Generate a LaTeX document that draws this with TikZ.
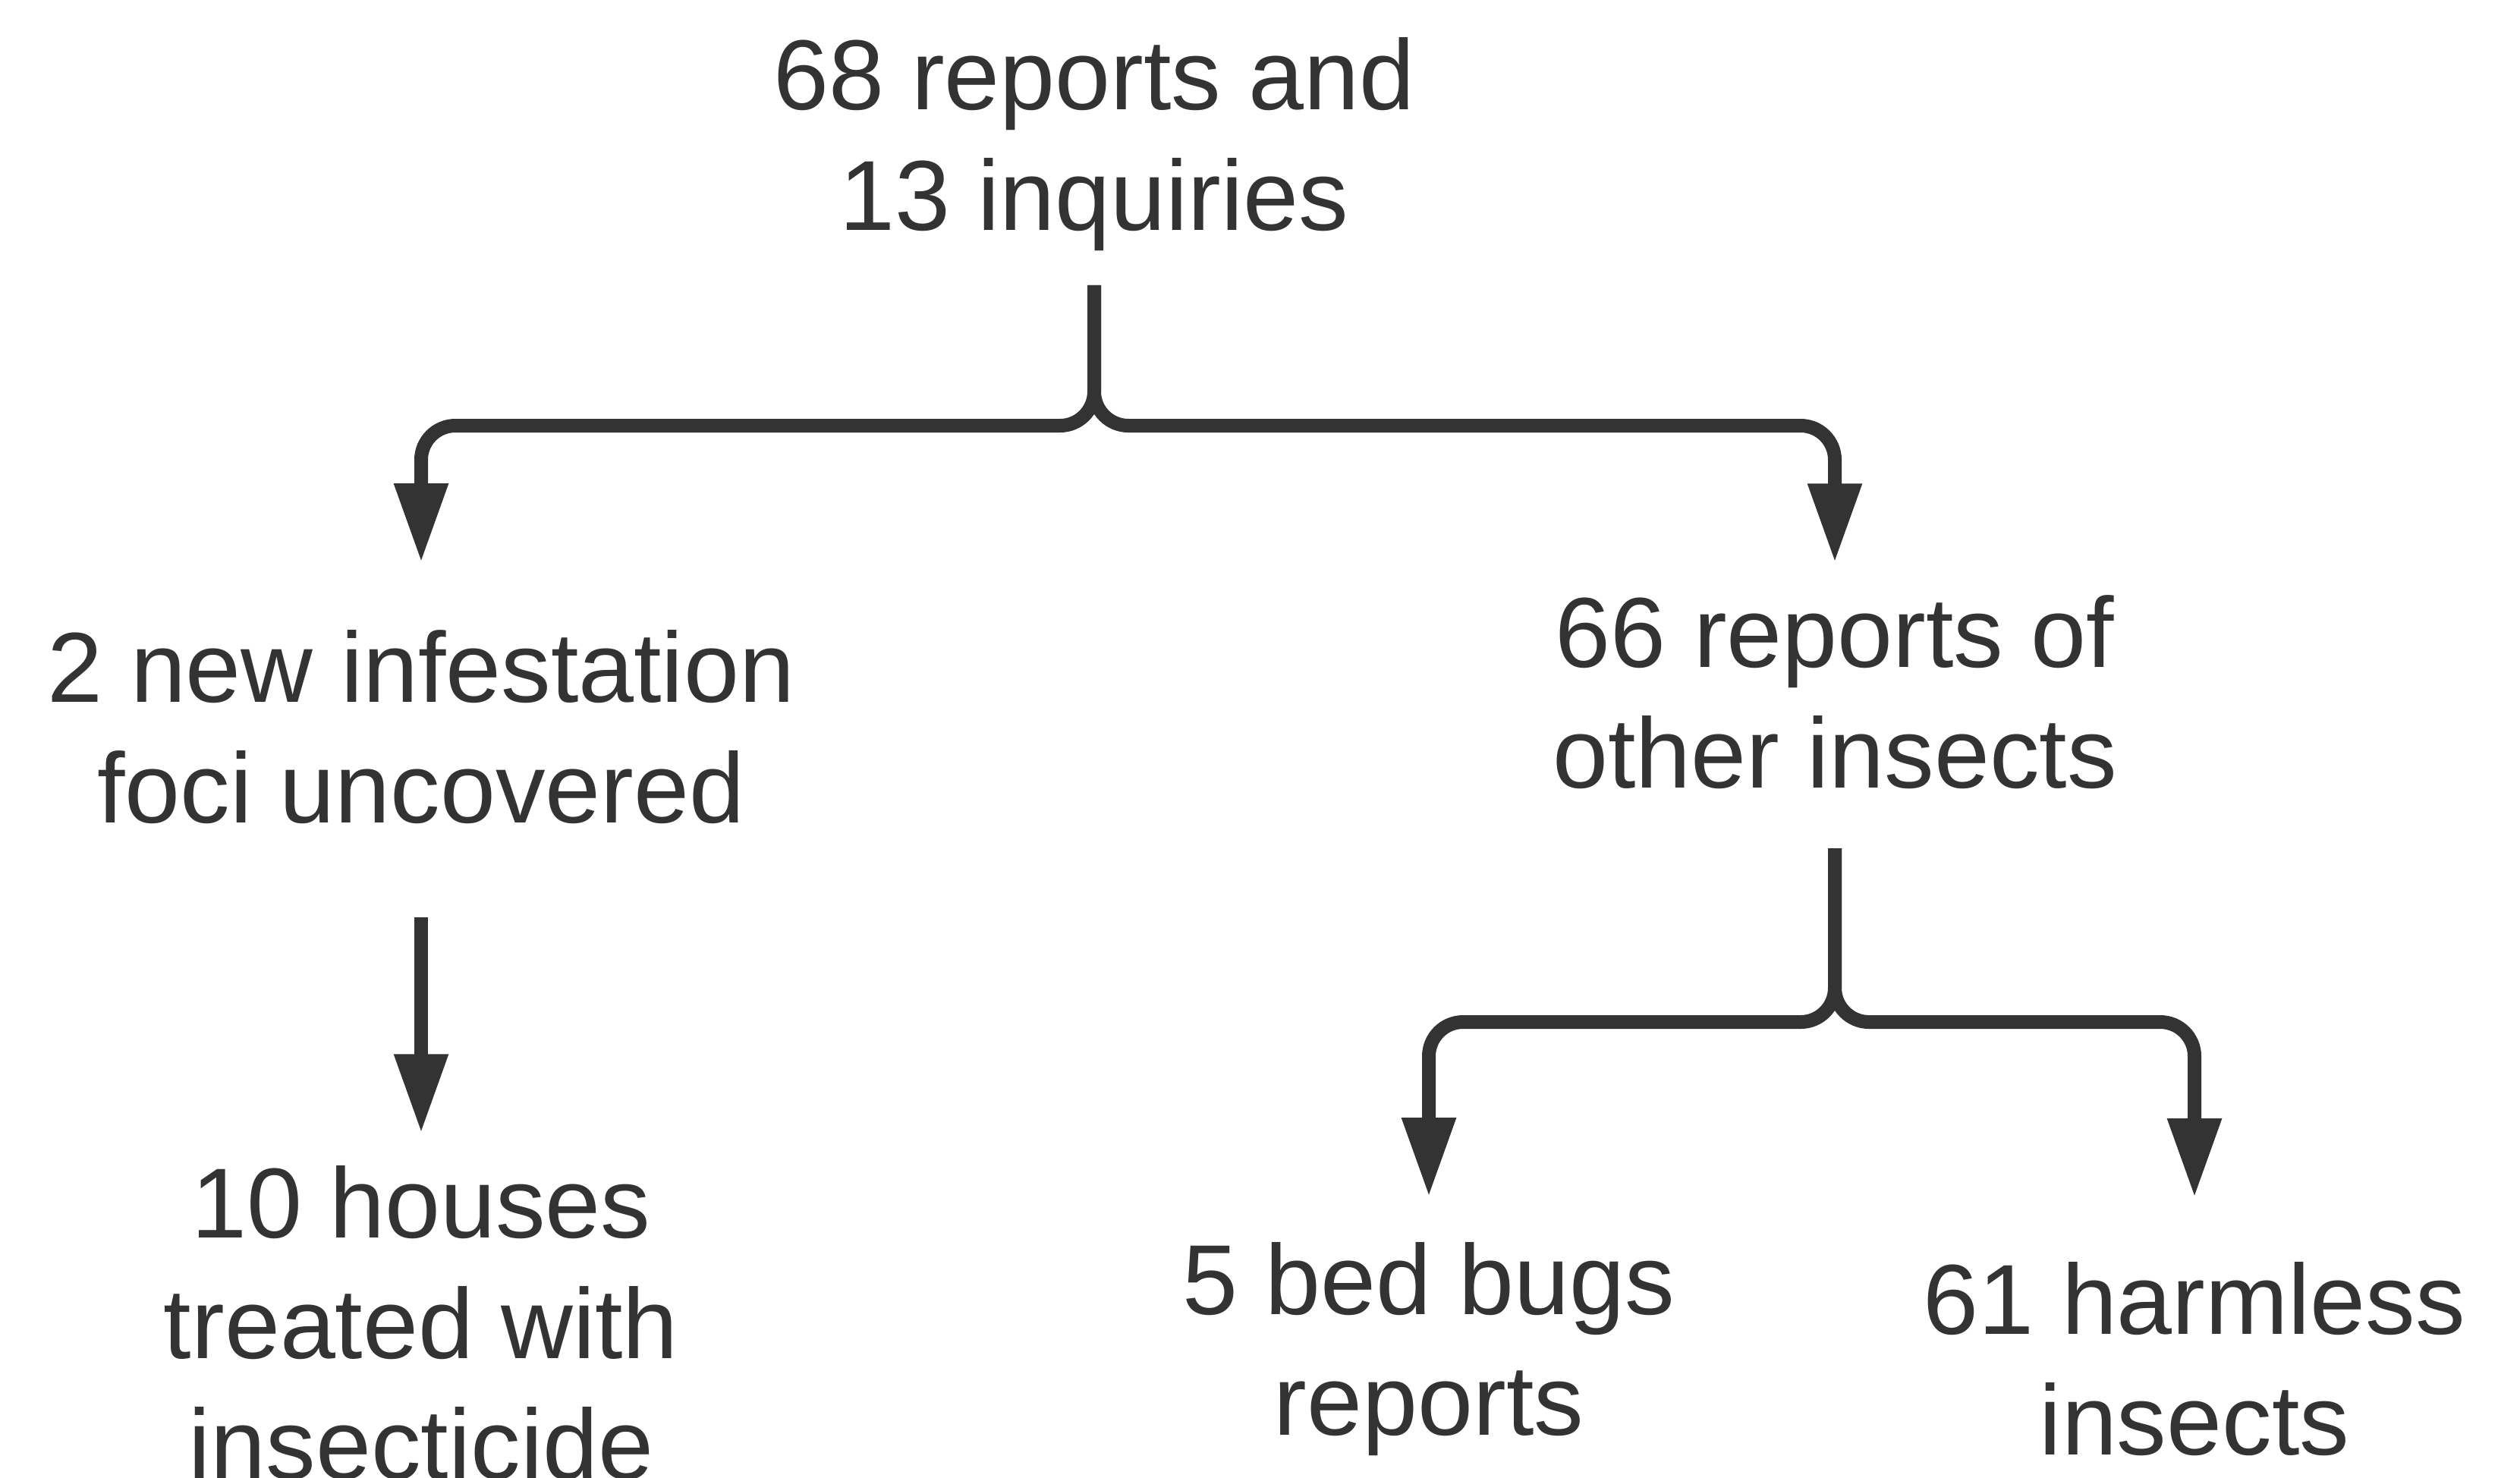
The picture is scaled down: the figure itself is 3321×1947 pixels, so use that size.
\documentclass[tikz,border=0pt]{standalone}
\usepackage{fontspec}
\setmainfont{Liberation Sans}
\usepackage{tikz}
\usetikzlibrary{arrows.meta,positioning,calc}
\definecolor{ink}{HTML}{333333}

\begin{document}
\begin{tikzpicture}[x=0.01cm,y=-0.01cm,
  lbl/.style={align=center,inner sep=0pt,anchor=base,text=ink,font=\fontsize{37.3}{45.2}\selectfont},
  conn/.style={draw=ink,line width=0.18cm,rounded corners=0.45cm,-{Triangle[length=1.04cm,width=0.67cm]}}]
\useasboundingbox (0,0) rectangle (3321,1947);
% labels (placed at the baseline of their last line)
\node[lbl] (top) at (1442,303) {68 reports and\\13 inquiries};
\node[lbl] (infest) at (555,1084) {2 new infestation\\foci uncovered};
\node[lbl] (other) at (2418,1038) {66 reports of\\other insects};
\node[lbl] (houses) at (555,1949) {10 houses\\treated with\\insecticide};
\node[lbl] (bedbugs) at (1883,1891) {5 bed bugs\\reports};
\node[lbl] (harmless) at (2892,1917) {61 harmless\\insects};
\coordinate (split) at (1442,561);
\coordinate (split2) at (2418,1347);
% arrows
\draw[conn,shorten <=0.45cm,shorten >=0.88cm] (top.south) -- (split) -| (infest.north);
\draw[conn,shorten <=0.45cm,shorten >=0.42cm] (top.south) -- (split) -| (other.north);
\draw[conn,shorten <=1.23cm,shorten >=0.42cm] (infest.south) -- (houses.north);
\draw[conn,shorten <=0.78cm,shorten >=0.59cm] (other.south) -- (split2) -| (bedbugs.north);
\draw[conn,shorten <=0.78cm,shorten >=0.84cm] (other.south) -- (split2) -| (harmless.north);
\end{tikzpicture}
\end{document}
